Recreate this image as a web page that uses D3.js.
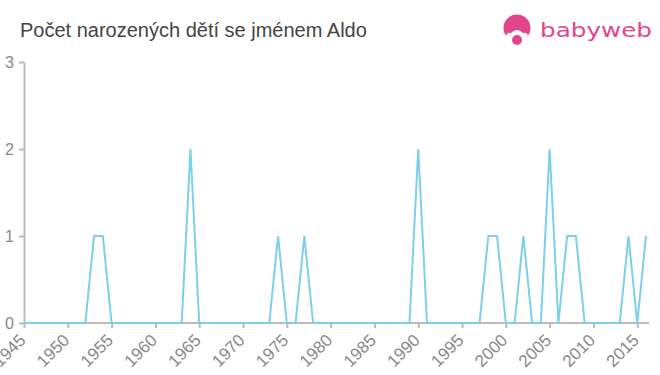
<!DOCTYPE html>
<html>
<head>
<meta charset="utf-8">
<script src="https://cdn.jsdelivr.net/npm/d3@7"></script>
<style>
	body { margin: 0; background: #fff; }
	svg { display: block; font-family: 'Liberation Sans', Arial, sans-serif; }
</style>
</head>
<body>
<div id="chart"></div>
<script>
const years = d3.range(1945, 2017);
// births per year, 1945..2016
const counts = [
	0, 0, 0, 0, 0, 0, 0, 0, 1, 1, // 1945-1954
	0, 0, 0, 0, 0, 0, 0, 0, 0, 2, // 1955-1964
	0, 0, 0, 0, 0, 0, 0, 0, 0, 1, // 1965-1974
	0, 0, 1, 0, 0, 0, 0, 0, 0, 0, // 1975-1984
	0, 0, 0, 0, 0, 2, 0, 0, 0, 0, // 1985-1994
	0, 0, 0, 1, 1, 0, 0, 1, 0, 0, // 1995-2004
	2, 0, 1, 1, 0, 0, 0, 0, 0, 1, // 2005-2014
	0, 1                          // 2015-2016
];
const xTicks = d3.range(1945, 2016, 5);
const yTicks = [0, 1, 2, 3];

const width = 660, height = 375;
const margin = { top: 62, right: 14, bottom: 52, left: 24 };

const svg = d3.select('#chart').append('svg')
	.attr('width', width)
	.attr('height', height);

const x = d3.scaleLinear().domain([1945, 2016]).range([margin.left, width - margin.right]);
const y = d3.scaleLinear().domain([0, 3]).range([height - margin.bottom, margin.top]);

// title
svg.append('text')
	.attr('x', 20)
	.attr('y', 37)
	.style('font-size', '20px')
	.style('fill', '#444')
	.text('Počet narozených dětí se jménem Aldo');

// logo
const logo = svg.append('g');
logo.append('circle').attr('cx', 517).attr('cy', 28).attr('r', 13.5).attr('fill', '#e2468a');
logo.append('path')
	.attr('d', 'M505,40 Q506,31 511,33 Q517,27 523,33 Q528,31 529,40 Q526,46 517,46 Q508,46 505,40 Z')
	.attr('fill', '#fff');
logo.append('circle').attr('cx', 517).attr('cy', 40).attr('r', 5).attr('fill', '#e2468a');
logo.append('text')
	.attr('x', 540)
	.attr('y', 37)
	.attr('textLength', 112)
	.attr('lengthAdjust', 'spacingAndGlyphs')
	.style('font-size', '19px')
	.style('font-family', "'DejaVu Sans', sans-serif")
	.style('fill', '#e2468a')
	.text('babyweb');

// axes
const xAxis = d3.axisBottom(x).tickValues(xTicks).tickFormat(d3.format('d')).tickSize(5).tickSizeOuter(0);
const yAxis = d3.axisLeft(y).tickValues(yTicks).tickFormat(d3.format('d')).tickSize(5).tickSizeOuter(0);

const gx = svg.append('g')
	.attr('transform', 'translate(0,' + (height - margin.bottom) + ')')
	.call(xAxis);
gx.select('.domain').attr('stroke', '#bbb').attr('stroke-width', 2).attr('d', 'M' + margin.left + ',0H' + (width - 11));
gx.selectAll('.tick line').attr('stroke', '#bbb').attr('stroke-width', 2);
gx.selectAll('.tick text')
	.attr('fill', '#888')
	.style('font-size', '17px')
	.attr('text-anchor', 'end')
	.attr('x', 0)
	.attr('y', 0)
	.attr('dy', '0.35em')
	.attr('transform', 'translate(-2,14) rotate(-45)');

const gy = svg.append('g')
	.attr('transform', 'translate(' + margin.left + ',0)')
	.call(yAxis);
gy.select('.domain').attr('stroke', '#bbb').attr('stroke-width', 2);
gy.selectAll('.tick line').attr('stroke', '#bbb').attr('stroke-width', 2);
gy.selectAll('.tick text')
	.attr('fill', '#888')
	.style('font-size', '16px')
	.attr('x', -10);

// line
const line = d3.line()
	.x((d, i) => x(years[i]))
	.y(d => y(d));

svg.append('path')
	.datum(counts)
	.attr('fill', 'none')
	.attr('stroke', '#7dcfea')
	.attr('stroke-width', 2)
	.attr('d', line);
</script>
</body>
</html>
